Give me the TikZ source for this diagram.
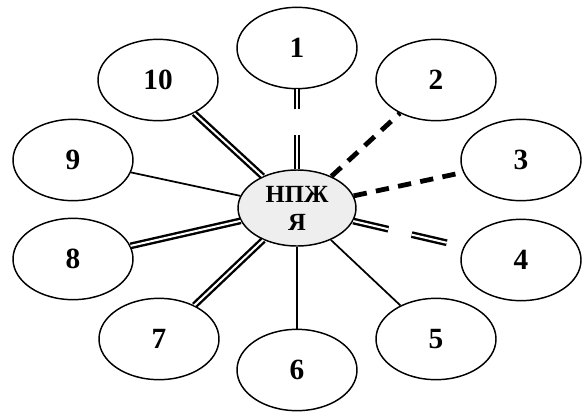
\documentclass[tikz,border=0pt]{standalone}
\usepackage{fontspec}
\setmainfont{Liberation Serif}
\usetikzlibrary{shapes.geometric}
\tikzset{
  leaf/.style={ellipse, draw, line width=1.1pt, minimum width=90pt, minimum height=61pt, inner sep=0pt, font=\fontsize{22}{25}\selectfont\bfseries},
  hub/.style={ellipse, draw, line width=1.1pt, fill=gray!13, minimum width=88.5pt, minimum height=57pt, inner sep=0pt, align=center, font=\fontsize{18.5}{21}\selectfont\bfseries},
  thin/.style={line width=1.3pt},
  dbl/.style={line width=1.8pt, double=white, double distance=1.5pt},
  dsh/.style={line width=3.6pt, dash pattern=on 10pt off 7pt}
}
\begin{document}
\begin{tikzpicture}[x=0.75pt, y=-0.75pt]
\useasboundingbox (0,0) rectangle (582,411);
\node[hub] (c) at (297,208) {НПЖ\\Я};
\node[leaf] (e1) at (297,48) {1};
\node[leaf] (e2) at (436,80) {2};
\node[leaf] (e3) at (521,160) {3};
\node[leaf] (e4) at (521,260) {4};
\node[leaf] (e5) at (436,339) {5};
\node[leaf] (e6) at (297,370) {6};
\node[leaf] (e7) at (159,339) {7};
\node[leaf] (e8) at (73,259) {8};
\node[leaf] (e9) at (73,160) {9};
\node[leaf] (e10) at (158,80) {10};
\draw[dbl, dash pattern=on 26pt off 19pt on 40pt] (c) -- (e1);
\draw[dsh] (c) -- (e2);
\draw[dsh] (c) -- (e3);
\draw[dbl, dash pattern=on 27pt off 18pt on 27pt off 60pt] (c) -- (e4);
\draw[thin] (c) -- (e5);
\draw[thin] (c) -- (e6);
\draw[dbl] (c) -- (e7);
\draw[dbl] (c) -- (e8);
\draw[thin] (c) -- (e9);
\draw[dbl] (c) -- (e10);
\end{tikzpicture}
\end{document}
